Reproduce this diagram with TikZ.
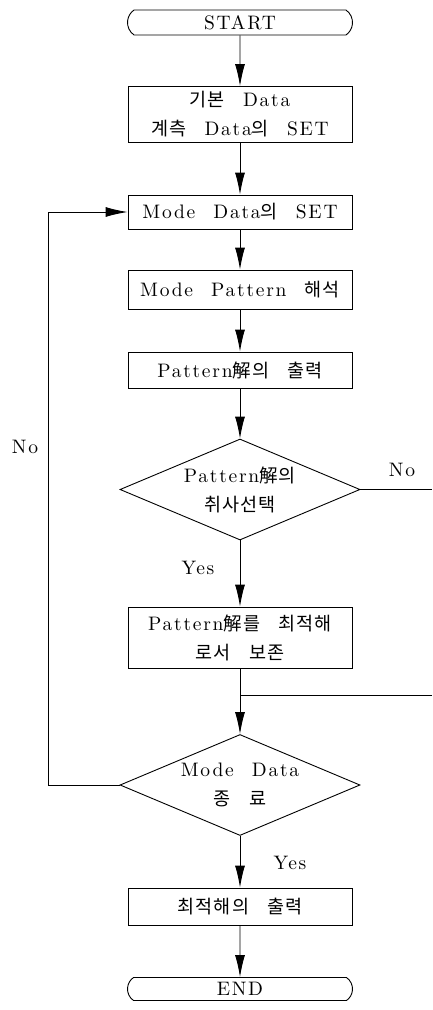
\documentclass[tikz,border=0pt]{standalone}
\usepackage{fontspec}
\setmainfont{lmroman10-regular.otf}[LetterSpace=9,WordSpace=2.2]
\newfontfamily\kr{Noto Sans CJK KR}[LetterSpace=6,Scale=0.95]
\newcommand{\K}[1]{{\kr #1}}
\usetikzlibrary{shapes.geometric,shapes.misc,arrows.meta}
\begin{document}
\begin{tikzpicture}[x=1pt,y=-1pt,line width=0.9pt,
  base/.style={font=\fontsize{19.5}{29}\selectfont,align=center,inner sep=0pt},
  box/.style={base,draw,rectangle,minimum width=224pt},
  term/.style={base,draw,rounded rectangle,rounded rectangle arc length=110,minimum width=225pt,minimum height=25pt},
  dec/.style={base,draw,diamond,aspect=2.4,minimum width=240pt,minimum height=101pt},
  lbl/.style={font=\fontsize{19.5}{20}\selectfont,inner sep=0pt},
  arr/.style={-{Latex[length=22pt,width=10pt]}}]
\useasboundingbox (0,0) rectangle (432,1010);
\node[term] (st) at (240,22.5) {START};
\node[box,minimum height=56pt] (b1) at (240,114.5) {\K{기본} Data\\\K{계측} Data\K{의} SET};
\node[box,minimum height=34pt] (ms) at (240,212) {Mode Data\K{의} SET};
\node[box,minimum height=39pt] (mp) at (240,289.5) {Mode Pattern \K{해석}};
\node[box,minimum height=36pt] (po) at (240,370) {Pattern\K{解의} \K{출력}};
\node[dec] (d1) at (240,489.5) {Pattern\K{解의}\\\K{취사선택}};
\node[box,minimum height=61pt] (b5) at (240,637.5) {Pattern\K{解를} \K{최적해}\\\K{로서} \K{보존}};
\node[dec] (d2) at (240,785) {Mode Data\\\K{종} \K{료}};
\node[box,minimum height=37pt] (fo) at (240,906.5) {\K{최적해의} \K{출력}};
\node[term,minimum height=23pt] (en) at (240,989) {END};
\coordinate (r1) at (432,489.5);
\coordinate (r2) at (432,695);
\coordinate (j) at (240,695);
\coordinate (lp) at (48,785);
\draw[arr] (st) -- (b1);
\draw[arr] (b1) -- (ms);
\draw[arr] (ms) -- (mp);
\draw[arr] (mp) -- (po);
\draw[arr] (po) -- (d1);
\draw[arr] (d1) -- (b5);
\draw (d1.east) -- (r1);
\draw (b5.south) -- (j);
\draw (r2) -- (j);
\draw[arr] (j) -- (d2.north);
\draw[arr] (d2.west) -- (lp) |- (ms.west);
\draw[arr] (d2) -- (fo);
\draw[arr] (fo) -- (en);
\node[lbl] (no1) at (25,447) {No};
\node[lbl] (no2) at (402,470) {No};
\node[lbl] (y1) at (198,568) {Yes};
\node[lbl] (y2) at (290,863) {Yes};
\end{tikzpicture}
\end{document}
